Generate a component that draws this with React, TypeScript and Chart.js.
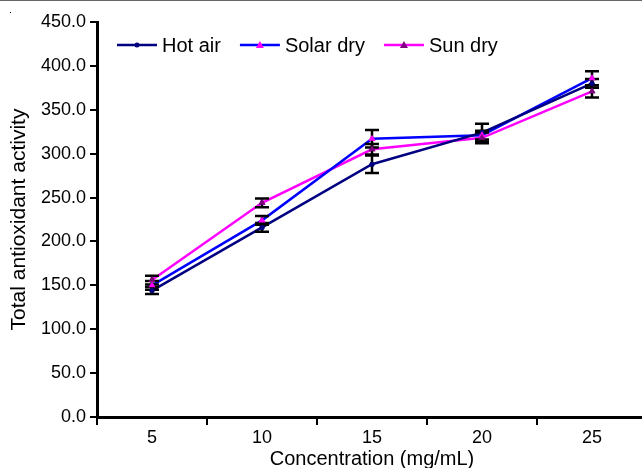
import React, { useEffect, useRef } from "react";
import { Chart, registerables } from "chart.js";

Chart.register(...registerables);

const categories = ["5", "10", "15", "20", "25"];
const hotAir = [144, 216, 288, 324, 380];
const hotAirErr = [4, 5, 10, 10, 5];
const solarDry = [150, 224, 317, 321, 386];
const solarDryErr = [5, 5, 10, 5, 8];
const sunDry = [156, 244, 305, 318, 371];
const sunDryErr = [5, 5, 6, 6, 7];
const yTicks = [0, 50, 100, 150, 200, 250, 300, 350, 400, 450];

const seriesNames = ["Hot air", "Solar dry", "Sun dry"];
const lineColors = ["#000080", "#0000ff", "#ff00ff"];
const markerColors = ["#000080", "#ff00ff", "#800080"];
const markerStyles = ["circle", "triangle", "triangle"];
const errors = [hotAirErr, solarDryErr, sunDryErr];

const FONT = "'Liberation Sans', Arial, Helvetica, sans-serif";

const errorBarPlugin = {
  id: "errorBars",
  afterDatasetsDraw(chart: any) {
    const ctx = chart.ctx;
    const y = chart.scales.y;
    ctx.save();
    ctx.strokeStyle = "#000";
    ctx.lineWidth = 2.5;
    chart.data.datasets.forEach((ds: any, di: number) => {
      const meta = chart.getDatasetMeta(di);
      meta.data.forEach((el: any, i: number) => {
        const v = ds.data[i];
        const e = errors[di][i];
        const top = y.getPixelForValue(v + e);
        const bot = y.getPixelForValue(v - e);
        const x = el.x;
        ctx.beginPath();
        ctx.moveTo(x, top);
        ctx.lineTo(x, bot);
        ctx.moveTo(x - 7, top);
        ctx.lineTo(x + 7, top);
        ctx.moveTo(x - 7, bot);
        ctx.lineTo(x + 7, bot);
        ctx.stroke();
      });
    });
    ctx.restore();
    chart.data.datasets.forEach((_ds: any, di: number) => {
      const meta = chart.getDatasetMeta(di);
      meta.data.forEach((el: any) => el.draw(ctx, chart.chartArea));
    });
  },
};

function drawMarker(ctx: CanvasRenderingContext2D, style: string, x: number, y: number, color: string) {
  ctx.fillStyle = color;
  ctx.beginPath();
  if (style === "circle") {
    ctx.arc(x, y, 2.5, 0, Math.PI * 2);
  } else {
    ctx.moveTo(x, y - 4);
    ctx.lineTo(x + 4, y + 3);
    ctx.lineTo(x - 4, y + 3);
    ctx.closePath();
  }
  ctx.fill();
}

const legendPlugin = {
  id: "customLegend",
  afterDraw(chart: any) {
    const ctx = chart.ctx;
    ctx.save();
    // top border line
    ctx.fillStyle = "#666";
    ctx.fillRect(0, 0, chart.width, 1);
    ctx.fillStyle = "#000";
    ctx.fillRect(10, 12, 1, 1);
    ctx.font = `20px ${FONT}`;
    ctx.textBaseline = "middle";
    let x = 117;
    const yy = 45;
    seriesNames.forEach((name, i) => {
      ctx.strokeStyle = lineColors[i];
      ctx.lineWidth = 2.5;
      ctx.beginPath();
      ctx.moveTo(x, yy);
      ctx.lineTo(x + 40, yy);
      ctx.stroke();
      drawMarker(ctx, markerStyles[i], x + 20, yy, markerColors[i]);
      ctx.fillStyle = "#000";
      ctx.fillText(name, x + 45, yy + 1);
      x += 45 + ctx.measureText(name).width + 19;
    });
    ctx.restore();
  },
};

export default function App() {
  const ref = useRef<HTMLCanvasElement>(null);
  useEffect(() => {
    if (!ref.current) return;
    const series = [hotAir, solarDry, sunDry];
    const chart = new Chart(ref.current, {
      type: "line",
      data: {
        labels: categories,
        datasets: series.map((d, i) => ({
          label: seriesNames[i],
          data: d,
          borderColor: lineColors[i],
          backgroundColor: markerColors[i],
          borderWidth: 2.5,
          pointStyle: markerStyles[i] as any,
          pointRadius: markerStyles[i] === "circle" ? 2.5 : 4,
          pointBorderWidth: 0,
          pointBackgroundColor: markerColors[i],
          pointBorderColor: markerColors[i],
          tension: 0,
          fill: false,
        })),
      },
      options: {
        animation: false,
        responsive: false,
        devicePixelRatio: 1,
        layout: { padding: { left: 0, right: 0, top: 22, bottom: 0 } },
        plugins: {
          legend: { display: false },
          tooltip: { enabled: false },
        },
        scales: {
          x: {
            type: "category",
            offset: true,
            grid: {
              offset: true,
              drawOnChartArea: false,
              drawTicks: true,
              tickLength: 8,
              color: "#000",
              lineWidth: 2,
            },
            border: { display: true, color: "#000", width: 3 },
            ticks: {
              color: "#000",
              font: { family: FONT, size: 18 },
              padding: 2,
              maxRotation: 0,
              autoSkip: false,
            },
            title: {
              display: true,
              text: "Concentration (mg/mL)",
              color: "#000",
              font: { family: FONT, size: 20 },
              padding: { top: 0, bottom: -3 },
            },
            afterFit(scale: any) {
              scale.height = 51;
            },
          },
          y: {
            min: 0,
            max: 450,
            afterBuildTicks(scale: any) {
              scale.ticks = yTicks.map((v) => ({ value: v }));
            },
            grid: {
              drawOnChartArea: false,
              drawTicks: true,
              tickLength: 7,
              color: "#000",
              lineWidth: 2,
            },
            border: { display: true, color: "#000", width: 3 },
            ticks: {
              color: "#000",
              font: { family: FONT, size: 18 },
              padding: 4,
              callback: (v: any) => Number(v).toFixed(1),
            },
            title: {
              display: true,
              text: "Total antioxidant activity",
              color: "#000",
              font: { family: FONT, size: 21 },
              padding: { top: 7, bottom: 0 },
            },
            afterFit(scale: any) {
              scale.width = 97;
            },
          },
        },
      },
      plugins: [errorBarPlugin, legendPlugin],
    });
    return () => chart.destroy();
  }, []);
  return (
    <div style={{ position: "fixed", left: 0, top: 0, width: 651, height: 468, background: "#fff" }}>
      <canvas ref={ref} width={651} height={468} style={{ display: "block" }} />
    </div>
  );
}
